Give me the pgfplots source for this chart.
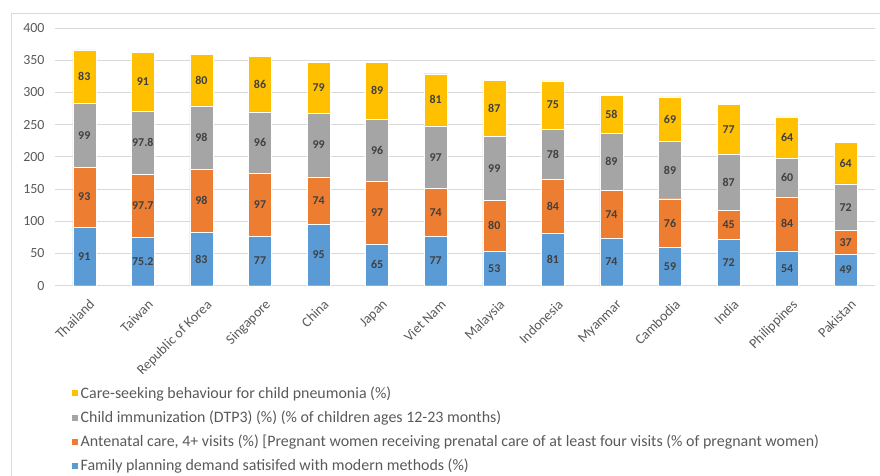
\documentclass[border=0pt]{standalone}
\usepackage{pgfplots}
\usepackage{pgfplotstable}
\pgfplotsset{compat=1.18}
\usepackage{fontspec}
\setmainfont{Carlito}
\definecolor{cblue}{HTML}{5B9BD5}
\definecolor{corange}{HTML}{ED7D31}
\definecolor{cgray}{HTML}{A5A5A5}
\definecolor{cyellow}{HTML}{FFC000}
\definecolor{gridc}{HTML}{D9D9D9}
\definecolor{txt}{HTML}{595959}
\definecolor{lbl}{HTML}{404040}
\pgfplotstableread{
idx fp anc imm care
0 91 93 99 83
1 75.2 97.7 97.8 91
2 83 98 98 80
3 77 97 96 86
4 95 74 99 79
5 65 97 96 89
6 77 74 97 81
7 53 80 99 87
8 81 84 78 75
9 74 74 89 58
10 59 76 89 69
11 72 45 87 77
12 54 84 60 64
13 49 37 72 64
}\datatab
\pgfplotsset{
  sq legend/.style={legend image code/.code={\fill[##1] (0bp,-3.5bp) rectangle (7bp,3.5bp);}},
  midlabel/.style={
    nodes near coords,
    point meta=rawy,
    every node near coord/.append style={anchor=center,
      font=\fontsize{12}{14}\selectfont\bfseries, text=lbl, inner sep=0pt},
  },
}
\begin{document}
\begin{tikzpicture}
\useasboundingbox (0,0) rectangle (880bp,476bp);
\draw[gridc, line width=0.75bp] (11bp,0bp) -- (11bp,462.5bp) -- (880bp,462.5bp);
\begin{axis}[
  at={(55bp,190.3bp)}, anchor=south west,
  scale only axis, width=820bp, height=257.7bp,
  ybar stacked, bar width=23bp,
  xmin=-0.5, xmax=13.5, ymin=0, ymax=400,
  ytick={0,50,...,400},
  xtick={0,...,13},
  xticklabels={Thailand, Taiwan, Republic of Korea, Singapore, China, Japan, Viet Nam, Malaysia, Indonesia, Myanmar, Cambodia, India, Philippines, Pakistan},
  axis line style={draw=none},
  major tick length=0pt,
  ymajorgrids, grid style={gridc, line width=0.9bp},
  /pgf/number format/assume math mode=true,
  tick label style={font=\fontsize{14}{16}\selectfont, text=txt},
  yticklabel style={xshift=-7bp},
  xticklabel style={rotate=45, anchor=north east, inner sep=1pt, xshift=-5bp, yshift=-11bp},
  reverse legend,
  legend style={at={(0.016,-0.375)}, anchor=north west, draw=none, fill=none,
    font=\fontsize{16}{17}\selectfont, text=txt, row sep=7bp,
    /tikz/every even column/.append style={column sep=0bp}},
  legend cell align=left,
]
\addplot[fill=cblue, draw=white, line width=0.4bp, sq legend, midlabel] table[x=idx, y=fp] {\datatab};
\addplot[fill=corange, draw=white, line width=0.4bp, sq legend, midlabel] table[x=idx, y=anc] {\datatab};
\addplot[fill=cgray, draw=white, line width=0.4bp, sq legend, midlabel] table[x=idx, y=imm] {\datatab};
\addplot[fill=cyellow, draw=white, line width=0.4bp, sq legend, midlabel] table[x=idx, y=care] {\datatab};
\legend{Family planning demand satisifed with modern methods (\%), Antenatal care{,} 4+ visits (\%) [Pregnant women receiving prenatal care of at least four visits (\% of pregnant women), Child immunization (DTP3) (\%) (\% of children ages 12-23 months), Care-seeking behaviour for child pneumonia (\%)}
\end{axis}
\end{tikzpicture}
\end{document}
